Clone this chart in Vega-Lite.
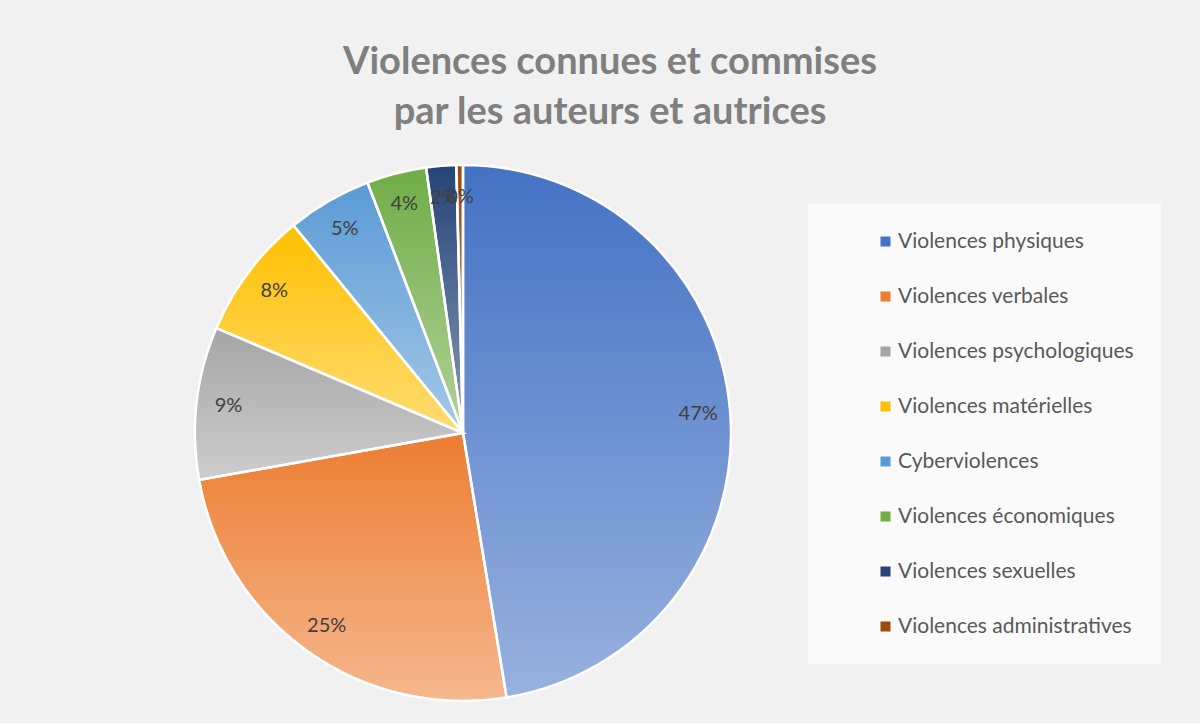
{
  "$schema": "https://vega.github.io/schema/vega-lite/v6.json",
  "width": 926,
  "height": 536,
  "padding": {"left": 0, "top": 44, "right": 39, "bottom": 17},
  "background": "#f1f1f1",
  "title": {
    "text": ["Violences connues et commises", "par les auteurs et autrices"],
    "fontSize": 38,
    "lineHeight": 50,
    "font": "Lato",
    "fontWeight": "bold",
    "color": "#7f7f7f",
    "anchor": "middle",
    "frame": "group",
    "dx": 147,
    "offset": 28
  },
  "data": {
    "values": [
      {"type": "Violences physiques", "share": 0.474},
      {"type": "Violences verbales", "share": 0.248},
      {"type": "Violences psychologiques", "share": 0.092},
      {"type": "Violences matérielles", "share": 0.077},
      {"type": "Cyberviolences", "share": 0.051},
      {"type": "Violences économiques", "share": 0.036},
      {"type": "Violences sexuelles", "share": 0.018},
      {"type": "Violences administratives", "share": 0.004}
    ]
  },
  "encoding": {
    "theta": {"field": "share", "type": "quantitative", "stack": true},
    "order": {"field": "share", "type": "quantitative", "sort": "descending"},
    "color": {
      "field": "type",
      "type": "nominal",
      "sort": ["Violences physiques", "Violences verbales", "Violences psychologiques", "Violences matérielles", "Cyberviolences", "Violences économiques", "Violences sexuelles", "Violences administratives"],
      "scale": {
        "domain": ["Violences physiques", "Violences verbales", "Violences psychologiques", "Violences matérielles", "Cyberviolences", "Violences économiques", "Violences sexuelles", "Violences administratives"],
        "range": ["#4472C4", "#ED7D31", "#A5A5A5", "#FFC000", "#5B9BD5", "#70AD47", "#264478", "#9E480E"]
      },
      "legend": {
        "orient": "none",
        "legendX": 808,
        "legendY": 39,
        "title": null,
        "padding": 27,
        "fillColor": "rgba(255,255,255,0.65)",
        "symbolType": "square",
        "symbolSize": 100,
        "symbolOffset": 40,
        "symbolStrokeWidth": 0,
        "labelFont": "Lato",
        "labelFontSize": 21,
        "labelColor": "#595959",
        "labelOffset": 2,
        "labelLimit": 400,
        "rowPadding": 33
      }
    }
  },
  "layer": [
    {"mark": {"type": "arc", "outerRadius": 268}},
    {
      "mark": {"type": "arc", "outerRadius": 268, "stroke": "white", "strokeWidth": 2.5},
      "encoding": {
        "fill": {"value": {"gradient": "linear", "x1": 0, "y1": 0, "x2": 0, "y2": 1, "stops": [{"offset": 0, "color": "rgba(255,255,255,0)"}, {"offset": 1, "color": "rgba(255,255,255,0.45)"}]}}
      }
    },
    {
      "mark": {"type": "text", "radius": 236, "fontSize": 20, "font": "Lato"},
      "encoding": {
        "text": {"field": "share", "type": "quantitative", "format": ".0%"},
        "fill": {"value": "#404040"}
      }
    }
  ],
  "config": {"view": {"stroke": null}}
}
